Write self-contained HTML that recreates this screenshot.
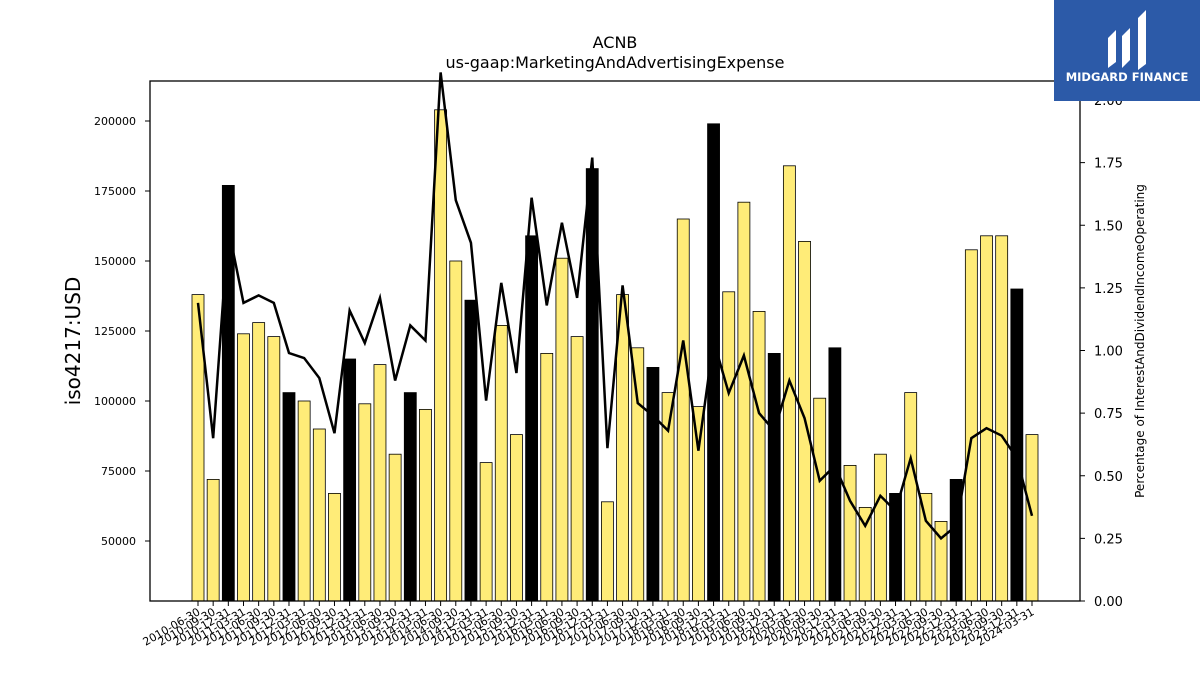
<!DOCTYPE html>
<html><head><meta charset="utf-8"><style>
body{margin:0;background:#fff;font-family:"Liberation Sans","DejaVu Sans",sans-serif}
</style></head><body>
<svg id="chart" width="1200" height="675" xmlns="http://www.w3.org/2000/svg" font-family="DejaVu Sans, Liberation Sans, sans-serif">
<rect width="1200" height="675" fill="#fff"/>
<text x="615" y="48" text-anchor="middle" font-size="16">ACNB</text>
<text x="615" y="68" text-anchor="middle" font-size="16">us-gaap:MarketingAndAdvertisingExpense</text>
<g id="bars"></g>
<g id="line"></g>
<g id="axes"></g>
<rect x="150" y="81" width="930" height="520" fill="none" stroke="#000" stroke-width="1.3"/>
<text transform="translate(80,341) rotate(-90)" text-anchor="middle" font-size="20">iso4217:USD</text>
<text transform="translate(1144,341) rotate(-90)" text-anchor="middle" font-size="12">Percentage of InterestAndDividendIncomeOperating</text>
<g>
<rect x="1054" y="0" width="146" height="101" fill="#2c5aa8"/>
<path d="M1108 68 L1108 38 L1116 30 L1116 62 Z M1122 68 L1122 36 L1130 28 L1130 60 Z M1138 70 L1138 18 L1146 10 L1146 64 Z" fill="#fff"/>
<text x="1127" y="81" text-anchor="middle" font-size="11.5" font-weight="bold" fill="#fff">MIDGARD FINANCE</text>
</g>
</svg>
<script>
const dates=[];
(function(){const q=["03-31","06-30","09-30","12-31"];for(let y=2010;y<=2024;y++)for(let i=0;i<4;i++){if(y==2010&&i==0)continue;if(y==2024&&i>0)continue;dates.push(y+"-"+q[i]);}})();
const barValues=[138000,72000,177000,124000,128000,123000,103000,100000,90000,67000,115000,99000,113000,81000,103000,97000,204000,150000,136000,78000,127000,88000,159000,117000,151000,123000,183000,64000,138000,119000,112000,103000,165000,98000,199000,139000,171000,132000,117000,184000,157000,101000,119000,77000,62000,81000,67000,103000,67000,57000,72000,154000,159000,159000,140000,88000];
const lineValues=[1.19,0.65,1.49,1.19,1.22,1.19,0.99,0.97,0.89,0.67,1.16,1.03,1.21,0.88,1.10,1.04,2.11,1.60,1.43,0.80,1.27,0.91,1.61,1.18,1.51,1.21,1.77,0.61,1.26,0.79,0.74,0.68,1.04,0.60,1.04,0.83,0.98,0.75,0.68,0.88,0.73,0.48,0.54,0.40,0.30,0.42,0.36,0.57,0.32,0.25,0.30,0.65,0.69,0.66,0.57,0.34];
const yTicks=[50000,75000,100000,125000,150000,175000,200000];
const y2Ticks=[0,0.25,0.5,0.75,1.0,1.25,1.5,1.75,2.0];
const NS="http://www.w3.org/2000/svg";
const x=i=>198+i*(1032-198)/(dates.length-1);
const y=v=>541-(v-50000)/25000*70;
const y2=v=>601-v*250.5;
function mk(t,a,p){const e=document.createElementNS(NS,t);for(const k in a)e.setAttribute(k,a[k]);p.appendChild(e);return e;}
const bars=document.getElementById('bars'),line=document.getElementById('line'),axes=document.getElementById('axes');
barValues.forEach((v,i)=>{const top=y(v);const r=mk('rect',{x:x(i)-6,y:top,width:12,height:601-top,fill:(i%4==2)?'#000':'#ffec78',stroke:'#000','stroke-width':0.8},bars);

});
const pl=mk('polyline',{points:lineValues.map((v,i)=>x(i)+','+y2(v)).join(' '),fill:'none',stroke:'#000','stroke-width':2.5},line);


yTicks.forEach(v=>{mk('line',{x1:145,x2:150,y1:y(v),y2:y(v),stroke:'#000'},axes);const t=mk('text',{x:136,y:y(v)+4,'text-anchor':'end','font-size':11},axes);t.textContent=v;

});
y2Ticks.forEach(v=>{mk('line',{x1:1080,x2:1085,y1:y2(v),y2:y2(v),stroke:'#000'},axes);const t=mk('text',{x:1094,y:y2(v)+5,'font-size':13},axes);t.textContent=v.toFixed(2);

});
dates.forEach((d,i)=>{mk('line',{x1:x(i),x2:x(i),y1:601,y2:606,stroke:'#000'},axes);const t=mk('text',{x:x(i)+3,y:614,'text-anchor':'end','font-size':11,transform:'rotate(-30 '+(x(i)+3)+' 614)'},axes);t.textContent=d;

});
</script>
</body></html>
